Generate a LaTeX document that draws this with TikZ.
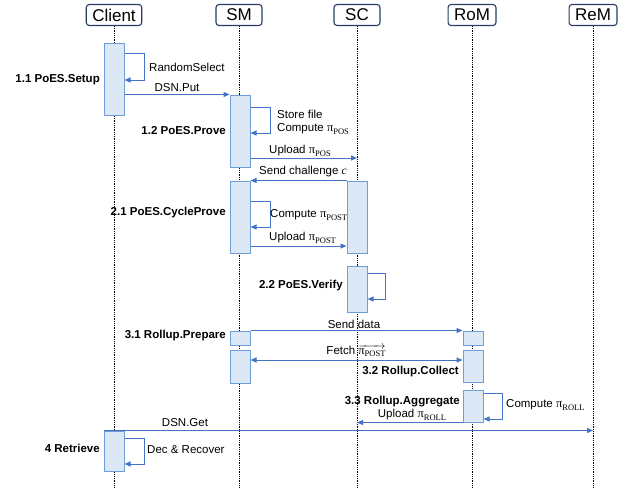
\documentclass[tikz,border=0pt]{standalone}
\usepackage{fontspec}
\setmainfont{Liberation Sans}
\newfontfamily\serif{Liberation Serif}
\usetikzlibrary{arrows.meta}
\definecolor{actfill}{RGB}{220,232,246}
\definecolor{actline}{RGB}{110,157,218}
\definecolor{msgline}{RGB}{68,114,196}
\definecolor{headline}{RGB}{40,60,100}
\newcommand{\pisub}[1]{{\serif\fontsize{12.5}{13}\selectfont π}\raisebox{-0.4ex}{\serif\fontsize{8.5}{9}\selectfont #1}}

\begin{document}
\begin{tikzpicture}[x=1pt,y=-1pt,
  font=\fontsize{11.5}{13}\selectfont,
  head/.style={draw=headline,line width=1.1pt,rounded corners=3pt,minimum width=46pt,
    minimum height=21pt,inner xsep=6pt,inner ysep=2pt,font=\fontsize{17}{19}\selectfont},
  life/.style={densely dotted,line width=0.8pt},
  act/.style={draw=actline,fill=actfill,line width=1pt,minimum width=20pt,inner sep=0pt},
  tip/.tip={Triangle[length=6pt,width=5pt]},
  msg/.style={draw=msgline,line width=1pt,-tip},
  stage/.style={font=\bfseries\fontsize{11.5}{13}\selectfont,inner sep=0pt},
  lbl/.style={inner sep=0pt}]
  \useasboundingbox (0,0) rectangle (631,491);
  % participants
  \node[head] (hc) at (114,15) {Client};
  \node[head] (hsm) at (239,15) {SM};
  \node[head] (hsc) at (357,15) {SC};
  \node[head] (hrom) at (472,15) {RoM};
  \node[head] (hrem) at (593,15) {ReM};
  \foreach \h in {hc,hsm,hsc,hrom,hrem}
    \draw[life] (\h.south) -- (\h.south |- 0,488);
  % activations
  \node[act,minimum height=72pt] (c1) at (114,79) {};
  \node[act,minimum height=72pt] (sm1) at (240,131) {};
  \node[act,minimum height=72pt] (sm2) at (240,217) {};
  \node[act,minimum height=72pt] (sc1) at (357,217) {};
  \node[act,minimum height=46pt] (sc2) at (357,289) {};
  \node[act,minimum height=14pt] (sm3) at (240,338) {};
  \node[act,minimum height=14pt] (rom1) at (473,338) {};
  \node[act,minimum height=33pt] (sm4) at (240,366.5) {};
  \node[act,minimum height=32pt] (rom2) at (473,366) {};
  \node[act,minimum height=32pt] (rom3) at (473,406) {};
  \node[act,minimum height=40pt] (c2) at (114,451) {};
  % 1 setup / prove
  \draw[msg] (c1.east |- 0,53) -- ++(20,0) -- ++(0,27) -- ++(-20,0);
  \node[lbl,anchor=west] (rsel) at (149,67) {RandomSelect};
  \node[stage,anchor=east] (s11) at (100,80) {1.1 PoES.Setup};
  \draw[msg] (c1.east |- sm1.north) -- (sm1.north west);
  \node[lbl] (put) at (177,88) {DSN.Put};
  \draw[msg] (sm1.east |- 0,107) -- ++(20,0) -- ++(0,26) -- ++(-20,0);
  \node[lbl,anchor=west] (store) at (277,114) {Store file};
  \node[lbl,anchor=west] (cpos) at (277,129) {Compute \pisub{POS}};
  \node[stage,anchor=east] (s12) at (226,131) {1.2 PoES.Prove};
  \draw[msg] (sm1.east |- 0,158) -- (hsc |- 0,158);
  \node[lbl,anchor=west] (upos) at (269,151) {Upload \pisub{POS}};
  % 2 cycle prove / verify
  \draw[msg] (sc1.north west) -- (sm2.north east);
  \node[lbl,anchor=west] (chal) at (259,172) {Send challenge {\serif\itshape c}};
  \draw[msg] (sm2.east |- 0,201) -- ++(20,0) -- ++(0,26) -- ++(-20,0);
  \node[stage,anchor=east] (s21) at (226,213) {2.1 PoES.CycleProve};
  \node[lbl,anchor=west] (cpost) at (270,215) {Compute \pisub{POST}};
  \draw[msg] (sm2.east |- 0,246) -- (sc1.west |- 0,246);
  \node[lbl,anchor=west] (upost) at (269,238) {Upload \pisub{POST}};
  \draw[msg] (sc2.east |- 0,273) -- ++(18,0) -- ++(0,26) -- ++(-18,0);
  \node[stage,anchor=east] (s22) at (343,286) {2.2 PoES.Verify};
  % 3 rollup
  \draw[msg] (sm3.north east) -- (rom1.north west);
  \node[lbl] (sdata) at (354,324) {Send data};
  \node[stage,anchor=east] (s31) at (226,336) {3.1 Rollup.Prepare};
  \draw[msg,tip-tip] (sm4.east |- 0,360) -- (rom2.west |- 0,360);
  \node[lbl] (fetch) at (356,351) {Fetch $\overrightarrow{\hbox{\pisub{POST}}}$};
  \node[stage,anchor=east] (s32) at (459,372) {3.2 Rollup.Collect};
  \draw[msg] (rom3.east |- 0,393) -- ++(19,0) -- ++(0,26) -- ++(-19,0);
  \node[stage,anchor=east] (s33) at (460,402) {3.3 Rollup.Aggregate};
  \node[lbl,anchor=west] (croll) at (506,405) {Compute \pisub{ROLL}};
  \draw[msg] (rom3.south west) -- (hsc |- rom3.south);
  \node[lbl] (uroll) at (412,415) {Upload \pisub{ROLL}};
  % 4 retrieve
  \draw[msg] (c2.north west) -- (hrem |- c2.north);
  \node[lbl] (get) at (185,423) {DSN.Get};
  \draw[msg] (c2.east |- 0,438) -- ++(20,0) -- ++(0,26) -- ++(-20,0);
  \node[stage,anchor=east] (s4) at (100,448) {4 Retrieve};
  \node[lbl,anchor=west] (dec) at (147,450) {Dec \& Recover};
\end{tikzpicture}
\end{document}
